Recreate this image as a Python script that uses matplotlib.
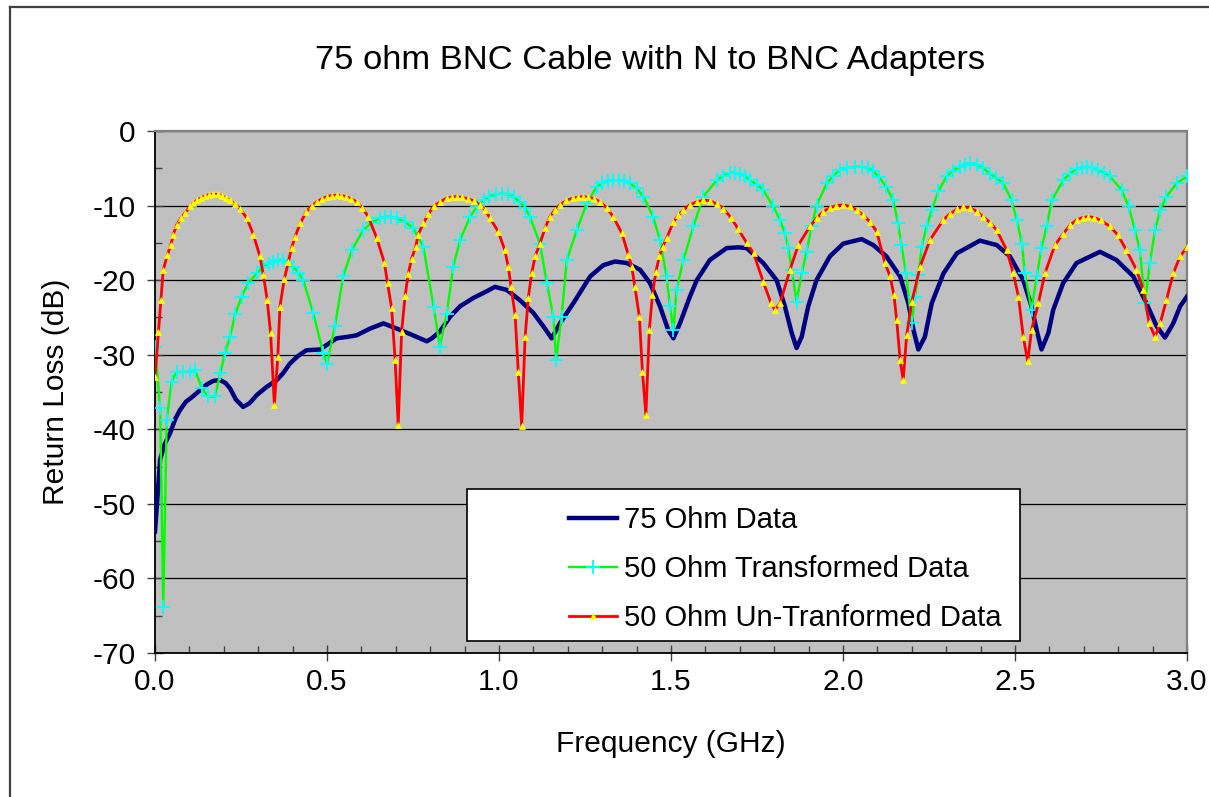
import matplotlib
matplotlib.use("Agg")
import matplotlib.pyplot as plt
from matplotlib.lines import Line2D
from matplotlib.patches import Rectangle
from matplotlib.ticker import MultipleLocator, FormatStrFormatter

plt.rcParams['font.family'] = ['Liberation Sans', 'DejaVu Sans']

TITLE = "75 ohm BNC Cable with N to BNC Adapters"
XLABEL = "Frequency (GHz)"
YLABEL = "Return Loss (dB)"
LABELS = ["75 Ohm Data", "50 Ohm Transformed Data", "50 Ohm Un-Tranformed Data"]

# ---- 75 Ohm Data ----
f75 = [0.000, 0.015, 0.029, 0.044, 0.060, 0.073, 0.090, 0.110, 0.130, 0.150, 0.170, 0.189,
       0.205, 0.218, 0.235, 0.256, 0.275, 0.296, 0.325, 0.354, 0.372, 0.392, 0.415, 0.440,
       0.480, 0.505, 0.528, 0.560, 0.586, 0.625, 0.664, 0.703, 0.745, 0.790, 0.805, 0.828,
       0.858, 0.887, 0.925, 0.964, 0.988, 1.022, 1.061, 1.100, 1.129, 1.153, 1.177, 1.216,
       1.265, 1.303, 1.337, 1.371, 1.410, 1.439, 1.468, 1.492, 1.507, 1.526, 1.555, 1.575,
       1.613, 1.662, 1.696, 1.720, 1.768, 1.807, 1.831, 1.851, 1.865, 1.880, 1.899, 1.923,
       1.962, 2.001, 2.054, 2.088, 2.126, 2.166, 2.190, 2.205, 2.219, 2.238, 2.258, 2.292,
       2.331, 2.398, 2.447, 2.485, 2.524, 2.548, 2.563, 2.577, 2.597, 2.611, 2.640, 2.679,
       2.747, 2.795, 2.844, 2.882, 2.912, 2.936, 2.960, 2.980, 3.000]
rl75 = [-53.7, -44.0, -41.9, -40.5, -38.5, -37.4, -36.3, -35.6, -34.8, -34.0, -33.5, -33.4,
        -33.8, -34.5, -36.0, -37.0, -36.5, -35.4, -34.3, -33.4, -32.5, -31.2, -30.2, -29.4,
        -29.3, -28.5, -27.8, -27.6, -27.4, -26.5, -25.8, -26.5, -27.3, -28.2, -27.8, -26.9,
        -24.9, -23.5, -22.4, -21.5, -20.9, -21.3, -22.7, -24.4, -26.2, -27.8, -25.8, -23.1,
        -19.5, -18.0, -17.5, -17.7, -18.6, -20.4, -23.5, -26.7, -27.8, -25.8, -22.2, -20.0,
        -17.3, -15.7, -15.6, -15.7, -17.7, -20.0, -23.5, -27.1, -29.1, -27.6, -23.5, -20.0,
        -16.8, -15.1, -14.5, -15.3, -16.8, -19.5, -23.1, -26.7, -29.3, -27.6, -23.1, -19.1,
        -16.4, -14.7, -15.3, -16.8, -20.0, -23.5, -26.7, -29.3, -27.1, -24.0, -20.4, -17.7,
        -16.2, -17.3, -19.5, -23.1, -26.2, -27.7, -25.8, -23.5, -22.2]

# ---- 50 Ohm Transformed Data ----
f50t = [0.000, 0.015, 0.024, 0.034, 0.048, 0.063, 0.082, 0.102, 0.116, 0.136, 0.154, 0.174,
        0.190, 0.203, 0.218, 0.233, 0.252, 0.271, 0.296, 0.315, 0.344, 0.373, 0.402, 0.431,
        0.460, 0.489, 0.500, 0.523, 0.547, 0.572, 0.605, 0.654, 0.703, 0.750, 0.780, 0.810,
        0.828, 0.848, 0.867, 0.887, 0.916, 0.955, 1.008, 1.061, 1.090, 1.119, 1.139, 1.158,
        1.166, 1.182, 1.197, 1.226, 1.255, 1.284, 1.332, 1.381, 1.420, 1.448, 1.468, 1.487,
        1.497, 1.507, 1.516, 1.536, 1.565, 1.594, 1.633, 1.672, 1.700, 1.730, 1.768, 1.797,
        1.817, 1.831, 1.841, 1.851, 1.865, 1.880, 1.894, 1.909, 1.923, 1.953, 1.991, 2.035,
        2.088, 2.126, 2.146, 2.160, 2.170, 2.183, 2.200, 2.209, 2.219, 2.229, 2.243, 2.258,
        2.277, 2.301, 2.370, 2.427, 2.466, 2.490, 2.505, 2.520, 2.529, 2.548, 2.563, 2.577,
        2.592, 2.607, 2.640, 2.708, 2.776, 2.810, 2.830, 2.849, 2.863, 2.878, 2.892, 2.907,
        2.922, 2.940, 2.970, 3.000]
rl50t = [-28.9, -37.2, -63.8, -38.8, -33.6, -32.3, -32.3, -32.3, -32.0, -34.5, -35.6, -35.6,
         -32.5, -29.8, -27.6, -24.6, -22.2, -20.4, -19.1, -18.2, -17.5, -17.3, -18.2, -20.0,
         -24.4, -29.8, -31.2, -26.2, -19.5, -16.0, -13.3, -11.7, -11.7, -13.0, -15.5, -23.6,
         -28.9, -24.5, -18.2, -14.6, -11.5, -9.3, -8.4, -9.5, -11.5, -15.1, -20.4, -24.9,
         -30.7, -24.9, -17.3, -13.3, -9.7, -7.5, -6.6, -7.0, -8.8, -11.5, -14.6, -19.5,
         -23.5, -26.7, -21.3, -17.3, -12.8, -8.8, -6.6, -5.6, -5.8, -6.6, -7.9, -10.1,
         -11.9, -13.7, -15.7, -18.6, -22.9, -19.1, -16.2, -12.8, -10.0, -7.0, -5.2, -4.8,
         -5.4, -7.5, -9.3, -12.4, -15.3, -19.1, -25.8, -22.2, -19.3, -15.5, -12.8, -10.6,
         -8.1, -6.1, -4.3, -5.7, -7.0, -9.3, -11.9, -15.1, -19.1, -24.0, -19.5, -15.7,
         -12.8, -9.3, -6.6, -4.8, -6.1, -7.9, -10.1, -13.3, -16.0, -23.1, -17.7, -13.3,
         -10.6, -8.8, -7.0, -6.1]
# extra readings around the broad maxima
f50t_pk = [0.330, 0.358, 0.388, 0.417, 0.630, 0.670, 0.687, 0.727, 0.935, 0.972, 0.990,
           1.026, 1.044, 1.076, 1.300, 1.316, 1.348, 1.364, 1.400, 1.652, 1.686, 1.715,
           1.750, 1.972, 2.012, 2.055, 2.072, 2.105, 2.320, 2.340, 2.355, 2.390, 2.408,
           2.446, 2.660, 2.680, 2.694, 2.725, 2.742, 2.760]
rl50t_pk = [-17.8, -17.3, -17.6, -19.0, -12.3, -11.5, -11.5, -12.2, -10.2, -8.8, -8.5,
            -8.5, -8.9, -10.3, -7.0, -6.7, -6.6, -6.7, -7.7, -6.0, -5.6, -6.1,
            -7.2, -6.0, -4.9, -4.8, -5.0, -6.2, -5.3, -4.8, -4.5, -4.5, -5.0,
            -6.3, -5.7, -5.1, -4.9, -4.9, -5.2, -5.6]

# ---- 50 Ohm Un-Tranformed Data ----
f50u = [0.000, 0.010, 0.017, 0.024, 0.036, 0.046, 0.053, 0.063, 0.075, 0.087, 0.102, 0.121,
        0.145, 0.170, 0.195, 0.218, 0.247, 0.267, 0.286, 0.305, 0.315, 0.326, 0.336, 0.347,
        0.357, 0.363, 0.376, 0.388, 0.397, 0.407, 0.422, 0.440, 0.470, 0.500, 0.528, 0.556,
        0.586, 0.620, 0.645, 0.667, 0.676, 0.688, 0.698, 0.707, 0.717, 0.727, 0.736, 0.746,
        0.758, 0.765, 0.780, 0.810, 0.848, 0.877, 0.910, 0.945, 0.974, 0.998, 1.017, 1.027,
        1.035, 1.047, 1.056, 1.066, 1.076, 1.085, 1.095, 1.105, 1.119, 1.134, 1.148, 1.177,
        1.216, 1.244, 1.294, 1.332, 1.357, 1.376, 1.386, 1.395, 1.408, 1.417, 1.427, 1.437,
        1.446, 1.456, 1.466, 1.476, 1.487, 1.507, 1.536, 1.594, 1.652, 1.696, 1.720, 1.740,
        1.768, 1.790, 1.802, 1.817, 1.846, 1.870, 1.904, 1.943, 2.000, 2.059, 2.098, 2.122,
        2.137, 2.148, 2.156, 2.166, 2.175, 2.185, 2.200, 2.224, 2.253, 2.292, 2.350, 2.408,
        2.447, 2.476, 2.495, 2.510, 2.524, 2.537, 2.548, 2.568, 2.587, 2.616, 2.660, 2.713,
        2.776, 2.824, 2.853, 2.873, 2.890, 2.907, 2.922, 2.940, 2.960, 2.980, 3.000]
rl50u = [-33.0, -27.0, -22.7, -18.6, -16.6, -15.3, -13.9, -12.6, -11.7, -11.0, -10.1, -9.3,
         -8.7, -8.5, -8.7, -9.3, -10.4, -11.7, -13.9, -16.8, -19.3, -22.6, -27.1, -36.7,
         -30.3, -23.6, -19.8, -17.5, -15.7, -14.2, -12.4, -10.8, -9.5, -8.8, -8.6, -8.8,
         -9.5, -11.5, -14.4, -17.7, -20.4, -23.8, -30.7, -39.4, -26.9, -22.1, -19.2, -17.1,
         -15.5, -13.9, -12.4, -10.1, -9.0, -8.8, -9.1, -9.9, -11.7, -13.5, -16.0, -18.2,
         -20.9, -24.7, -32.3, -39.6, -27.6, -22.4, -19.1, -16.8, -15.1, -13.0, -11.5, -9.9,
         -9.0, -8.8, -9.5, -11.5, -13.7, -16.6, -18.2, -20.9, -24.9, -32.3, -38.1, -26.7,
         -22.0, -18.9, -16.8, -15.5, -14.4, -12.2, -10.6, -9.3, -10.4, -13.2, -15.0, -16.4,
         -20.2, -23.0, -24.0, -23.1, -18.6, -15.3, -12.8, -10.8, -9.9, -11.3, -13.5, -17.7,
         -19.5, -22.0, -25.3, -30.7, -33.4, -27.4, -22.9, -18.2, -14.6, -11.9, -10.2, -11.5,
         -13.3, -16.0, -19.1, -22.2, -27.6, -30.9, -26.7, -23.1, -19.1, -15.3, -12.6, -11.5,
         -12.8, -16.0, -18.6, -21.3, -25.8, -27.6, -25.8, -22.7, -19.1, -16.8, -15.6]
# extra readings around the broad maxima
f50u_pk = [0.111, 0.133, 0.157, 0.183, 0.207, 0.232, 0.455, 0.485, 0.514, 0.542, 0.571,
           0.603, 0.795, 0.829, 0.862, 0.893, 0.928, 0.960, 1.162, 1.196, 1.230, 1.260,
           1.277, 1.313, 1.521, 1.555, 1.575, 1.613, 1.633, 1.674, 1.923, 1.962, 1.981,
           2.020, 2.040, 2.079, 2.311, 2.331, 2.370, 2.389, 2.428, 2.640, 2.680, 2.697,
           2.730, 2.750, 2.800]
rl50u_pk = [-9.7, -9.0, -8.55, -8.5, -9.0, -9.8, -10.1, -9.1, -8.65, -8.65, -9.1,
            -10.3, -11.1, -9.5, -8.85, -8.9, -9.4, -10.6, -10.6, -9.3, -8.85, -8.9,
            -9.1, -10.3, -11.3, -9.9, -9.5, -9.35, -9.8, -11.6, -11.7, -10.3, -10.0,
            -10.1, -10.6, -12.2, -11.1, -10.5, -10.3, -10.8, -12.3, -13.8, -11.9, -11.6,
            -11.6, -12.0, -14.0]


def merged(fa, va, fb, vb):
    pts = sorted(zip(fa + fb, va + vb))
    return [p[0] for p in pts], [p[1] for p in pts]


xt, yt = merged(f50t, rl50t, f50t_pk, rl50t_pk)
xu, yu = merged(f50u, rl50u, f50u_pk, rl50u_pk)

W, H = 1209, 797
fig = plt.figure(figsize=(W / 100, H / 100), dpi=100)
fig.patch.set_facecolor('white')

# outer chart border (left and top visible)
fig.add_artist(Line2D([10 / W, 10 / W], [0, 1 - 7 / H], transform=fig.transFigure,
                      color='#404040', lw=1.6))
fig.add_artist(Line2D([10 / W, 1], [1 - 7 / H, 1 - 7 / H], transform=fig.transFigure,
                      color='#404040', lw=1.6))

ax = fig.add_axes([155 / W, 1 - 653 / H, (1187 - 155) / W, (653 - 131) / H])
ax.set_facecolor('#C0C0C0')

ax.plot(f75, rl75, color='#000080', lw=3.2, label=LABELS[0], zorder=3,
        solid_joinstyle='round')
ax.plot(xt, yt, color='#00FF00', lw=1.7, marker='+', markersize=10,
        markeredgecolor='#00FFFF', markeredgewidth=1.3, label=LABELS[1], zorder=4)
ax.plot(xu, yu, color='#FF0000', lw=2.0, marker='^', markersize=5,
        markerfacecolor='#FFFF00', markeredgecolor='#FFFF00', markeredgewidth=0.5,
        label=LABELS[2], zorder=5)

ax.set_xlim(0, 3.0)
ax.set_ylim(-70, 0)
ax.xaxis.set_major_locator(MultipleLocator(0.5))
ax.xaxis.set_minor_locator(MultipleLocator(0.1))
ax.yaxis.set_major_locator(MultipleLocator(10))
ax.yaxis.set_minor_locator(MultipleLocator(5))
ax.xaxis.set_major_formatter(FormatStrFormatter('%.1f'))
ax.yaxis.set_major_formatter(FormatStrFormatter('%d'))

ax.grid(axis='y', which='major', color='black', lw=0.9, zorder=1)
ax.set_axisbelow(True)

for s in ['left', 'bottom']:
    ax.spines[s].set_color('black')
    ax.spines[s].set_linewidth(1.3)
for s in ['top', 'right']:
    ax.spines[s].set_color('#808080')
    ax.spines[s].set_linewidth(1.6)

ax.tick_params(axis='both', which='major', direction='inout', length=12, width=1.0,
               color='#404040', labelsize=21.5)
ax.tick_params(axis='both', which='minor', direction='in', length=5, width=1.0,
               color='#404040')
ax.tick_params(axis='x', which='major', pad=5)
ax.tick_params(axis='y', which='major', pad=8)

ax.set_xlabel(XLABEL, fontsize=21.5)
ax.set_ylabel(YLABEL, fontsize=21.5)
ax.xaxis.set_label_coords(0.5, -0.148)
ax.yaxis.set_label_coords(-0.082, 0.5)

fig.text(650 / W, 1 - 60 / H, TITLE, ha='center', va='center', fontsize=24.8)

# legend box
ax.add_patch(Rectangle(((467 - 155) / 1032, (653 - 641) / 522),
                       (1020 - 467) / 1032, (641 - 489) / 522,
                       transform=ax.transAxes, facecolor='white', edgecolor='black',
                       lw=1.2, zorder=6))
leg = ax.legend(loc='upper left', bbox_to_anchor=((569 - 155) / 1032, (653 - 506) / 522),
                frameon=False, fontsize=21, handlelength=1.65, handletextpad=0.25,
                labelspacing=0.72, borderpad=0, borderaxespad=0, numpoints=1)
leg.set_zorder(7)

fig.savefig('out.png', dpi=100)
